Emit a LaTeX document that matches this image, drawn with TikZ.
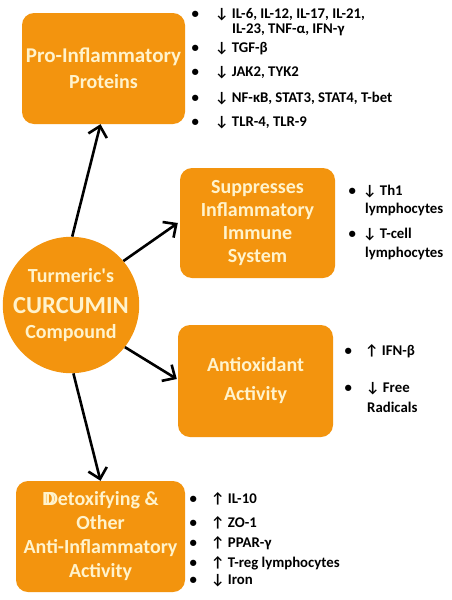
\documentclass[tikz,border=0pt]{standalone}
\usepackage{fontspec}
\setmainfont{Carlito}
\newfontfamily\arrfont{Carlito}
\usetikzlibrary{arrows.meta,calc}
\definecolor{boxorange}{RGB}{243,148,14}
\definecolor{boxtext}{RGB}{255,243,204}
\newcommand\itemtxt[2]{\makebox[0pt][c]{•}\hspace{#1}{\arrfont #2}}
\begin{document}
\begin{tikzpicture}[x=1pt,y=-1pt,
  box/.style={rectangle,rounded corners=12pt,fill=boxorange,text=boxtext,
    align=center,font=\fontsize{20}{24}\selectfont\bfseries,inner sep=0pt},
  hub/.style={circle,fill=boxorange,text=boxtext,align=center,
    font=\fontsize{20}{24}\selectfont\bfseries,minimum size=134pt,inner sep=0pt},
  li/.style={anchor=base west,inner sep=0pt,font=\fontsize{14.8}{17}\selectfont\bfseries},
  conn/.style={line width=2.6pt,-{Straight Barb[length=10pt,width=19pt,line width=2.6pt]}}
]
\useasboundingbox (0,0) rectangle (451,600);
\fill[white] (0,0) rectangle (451,600);

% boxes
\node[box,minimum width=163pt,minimum height=111pt] (b1) at (103.5,68.5)
  {\fontsize{21}{24}\selectfont Pro-Inflammatory\\[2pt]Proteins};
\node[box,minimum width=155pt,minimum height=110pt,font=\fontsize{20}{23.3}\selectfont\bfseries] (b2) at (257.5,223)
  {Suppresses\\Inflammatory\\Immune\\System};
\node[box,minimum width=155pt,minimum height=112pt] (b3) at (255.5,381)
  {Antioxidant\\[5pt]Activity};
\node[box,minimum width=169pt,minimum height=111pt] (b4) at (100.5,536.5)
  {\rlap{D}\kern3pt Detoxifying \&\\Other\\Anti-Inflammatory\\Activity};
\node[hub] (cur) at (71,305)
  {\raisebox{4pt}{Turmeric\textquotesingle s}\\[3pt]{\fontsize{24.5}{26}\selectfont CURCUMIN}\\[1pt]Compound};

% connectors
\draw[conn] (cur.89) -- ([xshift=-3pt]b1.south);
\draw[conn] (cur.40) -- ([xshift=-2pt]b2.west);
\draw[conn] (cur.-38) -- ([xshift=-1pt,yshift=2pt]b3.west);
\draw[conn] (cur.-88) -- (b4.north);

% list 1
\node[li] (l1a) at (195,18) {\itemtxt{20pt}{↓} IL-6, IL-12, IL-17, IL-21,};
\node[li] (l1b) at (232,33) {IL-23, TNF-α, IFN-γ};
\node[li] (l1c) at (195,52) {\itemtxt{20pt}{↓} TGF-β};
\node[li] (l1d) at (195,76) {\itemtxt{20pt}{↓} JAK2, TYK2};
\node[li] (l1e) at (195,102) {\itemtxt{20pt}{↓} NF-κB, STAT3, STAT4, T-bet};
\node[li] (l1f) at (195,126) {\itemtxt{20pt}{↓} TLR-4, TLR-9};

% list 2
\node[li] (l2a) at (352,195) {\itemtxt{11pt}{↓} Th1};
\node[li] (l2b) at (365,213) {lymphocytes};
\node[li] (l2c) at (352,238) {\itemtxt{11pt}{↓} T-cell};
\node[li] (l2d) at (365,257) {lymphocytes};

% list 3
\node[li] (l3a) at (348,355) {\itemtxt{17pt}{↑} IFN-β};
\node[li] (l3b) at (348,392) {\itemtxt{18pt}{↓} Free};
\node[li] (l3c) at (367,412) {Radicals};

% list 4
\node[li] (l4a) at (193,503) {\itemtxt{18pt}{↑} IL-10};
\node[li] (l4b) at (193,527) {\itemtxt{18pt}{↑} ZO-1};
\node[li] (l4c) at (193,547) {\itemtxt{18pt}{↑} PPAR-γ};
\node[li] (l4d) at (193,567) {\itemtxt{18pt}{↑} T-reg lymphocytes};
\node[li] (l4e) at (193,584) {\itemtxt{18pt}{↓} Iron};
\end{tikzpicture}
\end{document}
